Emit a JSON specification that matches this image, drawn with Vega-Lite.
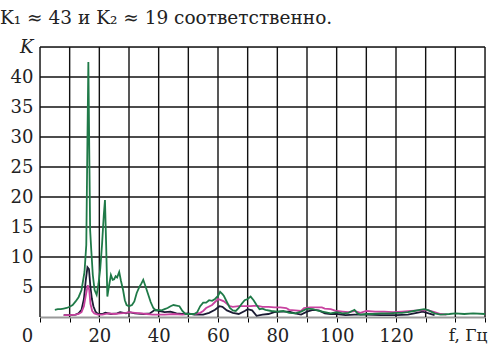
{
  "$schema": "https://vega.github.io/schema/vega-lite/v6.json",
  "width": 445,
  "height": 270,
  "autosize": {"type": "none"},
  "padding": {"left": 40, "top": 47, "right": 8, "bottom": 33},
  "background": "white",
  "title": {"text": "K₁ ≈ 43 и K₂ ≈ 19 соответственно.", "anchor": "start", "frame": "group", "dx": -40, "offset": 11, "font": "DejaVu Serif", "fontSize": 18.5, "fontWeight": "normal", "color": "#222"},
  "datasets": {
    "vgrid": [{"f":0},{"f":10},{"f":20},{"f":30},{"f":40},{"f":50},{"f":60},{"f":70},{"f":80},{"f":90},{"f":100},{"f":110},{"f":120},{"f":130},{"f":140},{"f":150}],
    "hgrid": [{"K":5},{"K":10},{"K":15},{"K":20},{"K":25},{"K":30},{"K":35},{"K":40},{"K":45}],
    "curves": [
    {"s":"black","f":8,"K":0.3},{"s":"black","f":10,"K":0.3},{"s":"black","f":12,"K":0.4},{"s":"black","f":13,"K":0.6},{"s":"black","f":14,"K":1.2},{"s":"black","f":14.8,"K":3},{"s":"black","f":15.4,"K":6},{"s":"black","f":16,"K":8.3},{"s":"black","f":16.5,"K":8},{"s":"black","f":17,"K":5},{"s":"black","f":17.5,"K":3},{"s":"black","f":18,"K":1.8},{"s":"black","f":18.7,"K":0.9},{"s":"black","f":19.5,"K":0.5},{"s":"black","f":21,"K":0.5},{"s":"black","f":22,"K":0.7},{"s":"black","f":24,"K":0.5},{"s":"black","f":26,"K":0.6},{"s":"black","f":27,"K":0.8},{"s":"black","f":29,"K":0.6},{"s":"black","f":30,"K":0.8},{"s":"black","f":32,"K":0.6},{"s":"black","f":35,"K":0.5},{"s":"black","f":37,"K":0.6},{"s":"black","f":38.8,"K":1.2},{"s":"black","f":40,"K":1.0},{"s":"black","f":42,"K":0.8},{"s":"black","f":44,"K":0.9},{"s":"black","f":46,"K":0.6},{"s":"black","f":48,"K":0.5},{"s":"black","f":50,"K":0.6},{"s":"black","f":52,"K":0.4},{"s":"black","f":55,"K":0.4},{"s":"black","f":57,"K":0.7},{"s":"black","f":59,"K":1.2},{"s":"black","f":60.5,"K":1.8},{"s":"black","f":61.5,"K":1.7},{"s":"black","f":63,"K":1.1},{"s":"black","f":65,"K":0.7},{"s":"black","f":67,"K":0.5},{"s":"black","f":69,"K":1.0},{"s":"black","f":70,"K":1.3},{"s":"black","f":71.5,"K":1.1},{"s":"black","f":73,"K":0.2},{"s":"black","f":75,"K":0.4},{"s":"black","f":77,"K":0.5},{"s":"black","f":79,"K":0.8},{"s":"black","f":81,"K":0.9},{"s":"black","f":84,"K":0.9},{"s":"black","f":86,"K":0.6},{"s":"black","f":88,"K":0.4},{"s":"black","f":90,"K":0.9},{"s":"black","f":92,"K":1.2},{"s":"black","f":94,"K":1.1},{"s":"black","f":96,"K":0.6},{"s":"black","f":98,"K":0.5},{"s":"black","f":100,"K":0.5},{"s":"black","f":103,"K":0.3},{"s":"black","f":106,"K":0.4},{"s":"black","f":110,"K":0.4},{"s":"black","f":115,"K":0.3},{"s":"black","f":120,"K":0.3},{"s":"black","f":124,"K":0.4},{"s":"black","f":127,"K":0.7},{"s":"black","f":129,"K":0.9},{"s":"black","f":131,"K":0.6},{"s":"black","f":133,"K":0.3},
    {"s":"magenta","f":8,"K":0.3},{"s":"magenta","f":10,"K":0.3},{"s":"magenta","f":12,"K":0.4},{"s":"magenta","f":13,"K":0.5},{"s":"magenta","f":14,"K":0.8},{"s":"magenta","f":14.8,"K":1.8},{"s":"magenta","f":15.4,"K":3.5},{"s":"magenta","f":16.1,"K":5.3},{"s":"magenta","f":16.6,"K":4.5},{"s":"magenta","f":17,"K":2.2},{"s":"magenta","f":17.6,"K":1.0},{"s":"magenta","f":18.3,"K":0.6},{"s":"magenta","f":19.5,"K":0.4},{"s":"magenta","f":21,"K":0.4},{"s":"magenta","f":23,"K":0.6},{"s":"magenta","f":25,"K":0.5},{"s":"magenta","f":27,"K":0.6},{"s":"magenta","f":29,"K":0.7},{"s":"magenta","f":30,"K":0.8},{"s":"magenta","f":32,"K":0.7},{"s":"magenta","f":34,"K":0.6},{"s":"magenta","f":36,"K":0.5},{"s":"magenta","f":38,"K":0.4},{"s":"magenta","f":40,"K":0.4},{"s":"magenta","f":42,"K":0.4},{"s":"magenta","f":45,"K":0.5},{"s":"magenta","f":48,"K":0.4},{"s":"magenta","f":50,"K":0.5},{"s":"magenta","f":52,"K":0.5},{"s":"magenta","f":54,"K":0.7},{"s":"magenta","f":55,"K":1.0},{"s":"magenta","f":56,"K":1.5},{"s":"magenta","f":58,"K":2.0},{"s":"magenta","f":59,"K":2.5},{"s":"magenta","f":60,"K":3.0},{"s":"magenta","f":61,"K":2.8},{"s":"magenta","f":62,"K":2.6},{"s":"magenta","f":63,"K":2.2},{"s":"magenta","f":64,"K":1.8},{"s":"magenta","f":65,"K":1.7},{"s":"magenta","f":67,"K":1.8},{"s":"magenta","f":69,"K":1.8},{"s":"magenta","f":71,"K":1.8},{"s":"magenta","f":73,"K":1.9},{"s":"magenta","f":75,"K":1.7},{"s":"magenta","f":77,"K":1.7},{"s":"magenta","f":79,"K":1.6},{"s":"magenta","f":81,"K":1.6},{"s":"magenta","f":83,"K":1.5},{"s":"magenta","f":84,"K":1.2},{"s":"magenta","f":86,"K":1.1},{"s":"magenta","f":88,"K":1.0},{"s":"magenta","f":89,"K":1.5},{"s":"magenta","f":91,"K":1.6},{"s":"magenta","f":93,"K":1.6},{"s":"magenta","f":95,"K":1.6},{"s":"magenta","f":96,"K":1.4},{"s":"magenta","f":98,"K":1.3},{"s":"magenta","f":100,"K":1.0},{"s":"magenta","f":102,"K":0.9},{"s":"magenta","f":104,"K":0.8},{"s":"magenta","f":106,"K":1.0},{"s":"magenta","f":108,"K":0.7},{"s":"magenta","f":110,"K":1.0},{"s":"magenta","f":113,"K":0.9},{"s":"magenta","f":116,"K":0.9},{"s":"magenta","f":119,"K":0.8},{"s":"magenta","f":122,"K":0.9},{"s":"magenta","f":125,"K":1.0},{"s":"magenta","f":128,"K":1.1},{"s":"magenta","f":131,"K":1.1},{"s":"magenta","f":133,"K":0.8},{"s":"magenta","f":135,"K":0.5},{"s":"magenta","f":137,"K":0.4},
    {"s":"green","f":5,"K":1.2},{"s":"green","f":6,"K":1.3},{"s":"green","f":7,"K":1.3},{"s":"green","f":8,"K":1.4},{"s":"green","f":9,"K":1.5},{"s":"green","f":10,"K":1.7},{"s":"green","f":11,"K":2.0},{"s":"green","f":12,"K":2.6},{"s":"green","f":13,"K":3.3},{"s":"green","f":14,"K":4.5},{"s":"green","f":15,"K":7.5},{"s":"green","f":15.6,"K":12},{"s":"green","f":16,"K":30},{"s":"green","f":16.3,"K":42.5},{"s":"green","f":16.6,"K":28},{"s":"green","f":16.9,"K":14.5},{"s":"green","f":17.3,"K":11},{"s":"green","f":17.8,"K":7},{"s":"green","f":18.4,"K":4.5},{"s":"green","f":19.1,"K":3.7},{"s":"green","f":19.7,"K":5.5},{"s":"green","f":20.3,"K":8},{"s":"green","f":20.9,"K":12},{"s":"green","f":21.5,"K":17},{"s":"green","f":21.9,"K":19.5},{"s":"green","f":22.3,"K":12},{"s":"green","f":22.7,"K":3.4},{"s":"green","f":23.2,"K":5},{"s":"green","f":23.9,"K":7},{"s":"green","f":24.5,"K":6.2},{"s":"green","f":25,"K":6.3},{"s":"green","f":25.5,"K":6.8},{"s":"green","f":26,"K":6.6},{"s":"green","f":26.7,"K":7.5},{"s":"green","f":27.3,"K":6},{"s":"green","f":28,"K":4.5},{"s":"green","f":28.6,"K":2.8},{"s":"green","f":29.2,"K":2.0},{"s":"green","f":30,"K":1.8},{"s":"green","f":31,"K":2.0},{"s":"green","f":31.8,"K":2.6},{"s":"green","f":32.6,"K":4},{"s":"green","f":33.5,"K":5},{"s":"green","f":34.2,"K":5.6},{"s":"green","f":34.8,"K":6.2},{"s":"green","f":35.5,"K":5.2},{"s":"green","f":36.5,"K":3.7},{"s":"green","f":37.3,"K":2.5},{"s":"green","f":38.2,"K":1.5},{"s":"green","f":39,"K":1.1},{"s":"green","f":40,"K":1.2},{"s":"green","f":41,"K":1.1},{"s":"green","f":42,"K":1.3},{"s":"green","f":43,"K":1.5},{"s":"green","f":44,"K":1.8},{"s":"green","f":45,"K":2.0},{"s":"green","f":46,"K":1.9},{"s":"green","f":47,"K":1.8},{"s":"green","f":48,"K":1.0},{"s":"green","f":49,"K":0.5},{"s":"green","f":50,"K":0.5},{"s":"green","f":51,"K":0.5},{"s":"green","f":52,"K":0.5},{"s":"green","f":53,"K":0.8},{"s":"green","f":54,"K":1.8},{"s":"green","f":55,"K":2.4},{"s":"green","f":56,"K":2.4},{"s":"green","f":57,"K":2.8},{"s":"green","f":58,"K":2.7},{"s":"green","f":59,"K":3.0},{"s":"green","f":60,"K":3.5},{"s":"green","f":60.7,"K":4.2},{"s":"green","f":61.5,"K":3.8},{"s":"green","f":62,"K":3.5},{"s":"green","f":63,"K":2.5},{"s":"green","f":64,"K":1.5},{"s":"green","f":65,"K":1.1},{"s":"green","f":66,"K":1.0},{"s":"green","f":67,"K":1.5},{"s":"green","f":68,"K":2.2},{"s":"green","f":69,"K":2.8},{"s":"green","f":70,"K":3.0},{"s":"green","f":71,"K":3.4},{"s":"green","f":72,"K":2.8},{"s":"green","f":73,"K":2.0},{"s":"green","f":74,"K":1.3},{"s":"green","f":75,"K":1.4},{"s":"green","f":76,"K":1.2},{"s":"green","f":78,"K":1.0},{"s":"green","f":80,"K":0.9},{"s":"green","f":82,"K":1.0},{"s":"green","f":84,"K":0.7},{"s":"green","f":86,"K":0.6},{"s":"green","f":88,"K":0.9},{"s":"green","f":90,"K":1.4},{"s":"green","f":92,"K":1.3},{"s":"green","f":94,"K":1.0},{"s":"green","f":96,"K":0.8},{"s":"green","f":98,"K":0.6},{"s":"green","f":100,"K":0.8},{"s":"green","f":102,"K":0.6},{"s":"green","f":104,"K":0.7},{"s":"green","f":106,"K":1.2},{"s":"green","f":107,"K":0.6},{"s":"green","f":108,"K":0.4},{"s":"green","f":110,"K":0.5},{"s":"green","f":112,"K":0.5},{"s":"green","f":115,"K":0.6},{"s":"green","f":118,"K":0.6},{"s":"green","f":120,"K":0.7},{"s":"green","f":122,"K":0.7},{"s":"green","f":124,"K":0.8},{"s":"green","f":126,"K":1.0},{"s":"green","f":128,"K":1.2},{"s":"green","f":129.5,"K":1.3},{"s":"green","f":131,"K":1.1},{"s":"green","f":133,"K":0.6},{"s":"green","f":135,"K":0.4},{"s":"green","f":138,"K":0.5},{"s":"green","f":140,"K":0.6},{"s":"green","f":143,"K":0.5},{"s":"green","f":146,"K":0.6},{"s":"green","f":150,"K":0.5}
    ]
  },
  "layer": [
    {
      "data": {"name": "vgrid"},
      "mark": {"type": "rule", "color": "#111", "strokeWidth": 1.4},
      "encoding": {"x": {"field": "f", "type": "quantitative", "scale": {"domain": [0, 150], "nice": false, "zero": false},
        "axis": {"values": [0,10,20,30,40,50,60,70,80,90,100,110,120,130,140,150], "title": null, "grid": false, "domainColor": "#999", "domainWidth": 2, "tickColor": "#000", "tickSize": 5, "labelFont": "DejaVu Serif", "labelFontSize": 18, "labelColor": "#222", "labelPadding": 5, "labelOverlap": false, "labelFlush": false,
          "labelExpr": "datum.value == 140 ? 'f, Гц' : (datum.value % 20 == 0 && datum.value < 140 ? datum.label : '')",
          "labelAlign": {"condition": {"test": "datum.value == 140", "value": "left"}, "value": "center"},
          "labelFontSize": {"condition": {"test": "datum.value == 140", "value": 17}, "value": 18},
          "labelOffset": {"condition": [{"test": "datum.value == 0", "value": -13}, {"test": "datum.value == 140", "value": -7}], "value": 0}}}}
    },
    {
      "data": {"name": "hgrid"},
      "mark": {"type": "rule", "color": "#111", "strokeWidth": 1.4},
      "encoding": {"y": {"field": "K", "type": "quantitative", "scale": {"domain": [0, 45], "nice": false},
        "axis": {"values": [5,10,15,20,25,30,35,40,45], "title": null, "grid": false, "domain": false, "ticks": false, "labelFont": "DejaVu Serif", "labelFontSize": 18, "labelColor": "#222", "labelPadding": 7, "labelOverlap": false,
          "labelExpr": "datum.value == 45 ? 'K' : datum.label",
          "labelFontStyle": {"condition": {"test": "datum.value == 45", "value": "italic"}, "value": "normal"}}}}
    },
    {
      "data": {"name": "curves"},
      "mark": {"type": "line", "strokeWidth": 1.8},
      "encoding": {
        "x": {"field": "f", "type": "quantitative", "scale": {"domain": [0, 150], "nice": false, "zero": false},
          "axis": {"values": [0,10,20,30,40,50,60,70,80,90,100,110,120,130,140,150], "title": null, "grid": false, "domainColor": "#999", "domainWidth": 2, "tickColor": "#000", "tickSize": 5, "labelFont": "DejaVu Serif", "labelFontSize": 18, "labelColor": "#222", "labelPadding": 5, "labelOverlap": false, "labelFlush": false,
            "labelExpr": "datum.value == 140 ? 'f, Гц' : (datum.value % 20 == 0 && datum.value < 140 ? datum.label : '')",
            "labelAlign": {"condition": {"test": "datum.value == 140", "value": "left"}, "value": "center"},
            "labelFontSize": {"condition": {"test": "datum.value == 140", "value": 17}, "value": 18},
            "labelOffset": {"condition": [{"test": "datum.value == 0", "value": -13}, {"test": "datum.value == 140", "value": -7}], "value": 0}}},
        "y": {"field": "K", "type": "quantitative", "scale": {"domain": [0, 45], "nice": false},
          "axis": {"values": [5,10,15,20,25,30,35,40,45], "title": null, "grid": false, "domain": false, "ticks": false, "labelFont": "DejaVu Serif", "labelFontSize": 18, "labelColor": "#222", "labelPadding": 7, "labelOverlap": false,
            "labelExpr": "datum.value == 45 ? 'K' : datum.label",
            "labelFontStyle": {"condition": {"test": "datum.value == 45", "value": "italic"}, "value": "normal"}}},
        "color": {"field": "s", "type": "nominal", "scale": {"domain": ["black", "magenta", "green"], "range": ["#1b1b33", "#c8429f", "#1f7a48"]}, "legend": null}
      }
    }
  ]
}
